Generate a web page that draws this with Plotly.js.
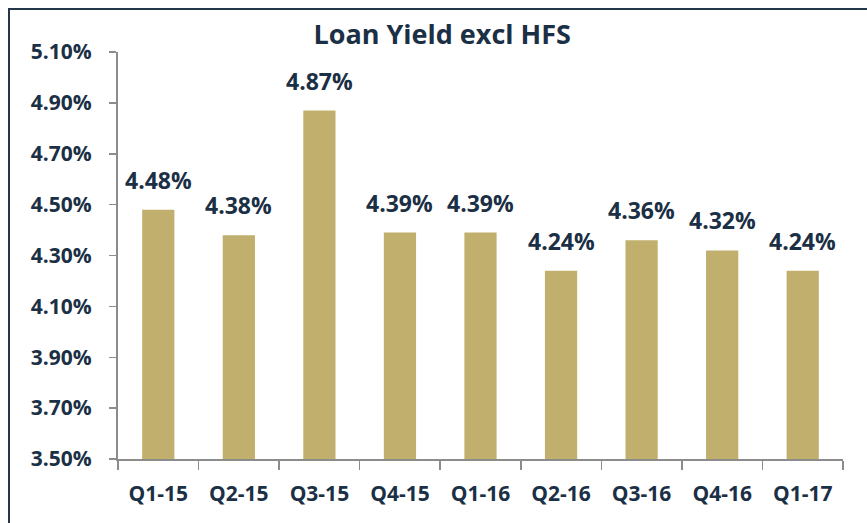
<!DOCTYPE html>
<html>
<head>
<meta charset="utf-8">
<script src="https://cdn.plot.ly/plotly-3.0.1.min.js"></script>
<style>
html,body{margin:0;padding:0;background:#fff;}
#wrap{position:relative;width:867px;height:523px;overflow:hidden;}
#chart{position:absolute;left:0;top:0;width:867px;height:523px;}
#frame{position:absolute;left:8px;top:8px;width:870px;height:530px;border-top:2px solid #24364a;border-left:2px solid #24364a;pointer-events:none;}
</style>
</head>
<body>
<div id="wrap"><div id="chart"></div><div id="frame"></div></div>
<script>
const categories = ["Q1-15","Q2-15","Q3-15","Q4-15","Q1-16","Q2-16","Q3-16","Q4-16","Q1-17"];
const loanYield = [4.48, 4.38, 4.87, 4.39, 4.39, 4.24, 4.36, 4.32, 4.24];
const yTicks = [3.5, 3.7, 3.9, 4.1, 4.3, 4.5, 4.7, 4.9, 5.1];
const yTickLabels = ["3.50%","3.70%","3.90%","4.10%","4.30%","4.50%","4.70%","4.90%","5.10%"];
const axisBase = 3.5;

const navy = "#1b2f45";
const fam = "'Open Sans', 'Noto Sans', sans-serif";
const tickFont = {family: fam, size: 21, color: navy, weight: 700};

const trace = {
  type: "bar",
  x: categories,
  y: loanYield.map(v => v - axisBase),
  base: axisBase,
  marker: {color: "#C1AF6E", line: {width: 0}},
  hoverinfo: "skip"
};

const annotations = categories.map((c, i) => ({
  x: c, y: loanYield[i], xref: "x", yref: "y",
  text: loanYield[i].toFixed(2) + "%",
  showarrow: false, yanchor: "bottom", yshift: 12,
  font: {family: fam, size: 23, color: navy, weight: 700}
}));

const layout = {
  width: 867, height: 523,
  margin: {l: 118, r: 24, t: 52, b: 64},
  paper_bgcolor: "#fff", plot_bgcolor: "#fff",
  title: {text: "<b>Loan Yield excl HFS</b>", x: 0.51, xanchor: "center", y: 0.933, yanchor: "middle",
          font: {family: fam, size: 27, color: navy, weight: 700}},
  showlegend: false,
  bargap: 0.6,
  xaxis: {
    type: "category",
    showline: true, linecolor: "#8c8c8c", linewidth: 2,
    ticks: "outside", tickson: "boundaries", ticklen: 9, tickcolor: "#8c8c8c", tickwidth: 1.5,
    tickfont: tickFont, showgrid: false, zeroline: false, ticklabelstandoff: 15
  },
  yaxis: {
    range: [3.5, 5.1],
    tickmode: "array", tickvals: yTicks, ticktext: yTickLabels,
    showline: true, linecolor: "#8c8c8c", linewidth: 2,
    ticks: "outside", ticklen: 7, tickcolor: "#8c8c8c", tickwidth: 1.5,
    tickfont: tickFont, showgrid: false, zeroline: false, ticklabelstandoff: 13
  },
  annotations: annotations
};

Plotly.newPlot("chart", [trace], layout, {displayModeBar: false, staticPlot: true});
</script>
</body>
</html>
